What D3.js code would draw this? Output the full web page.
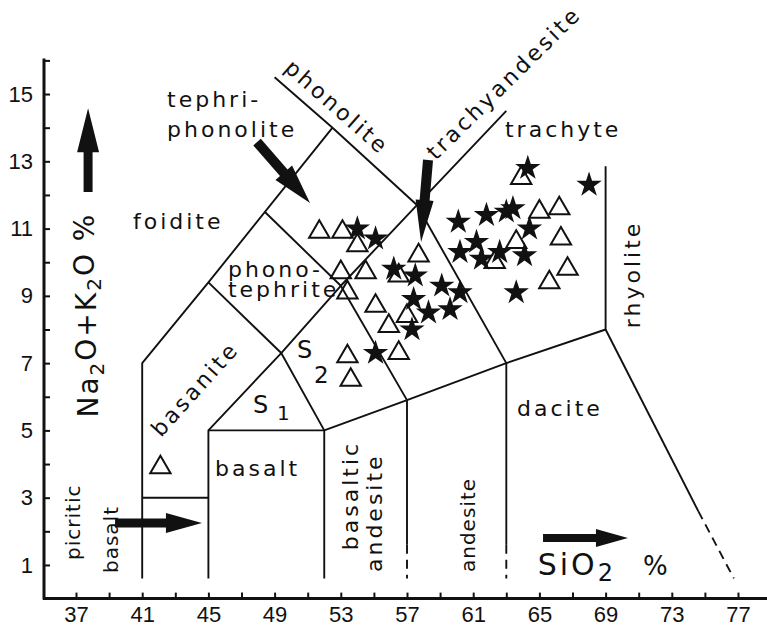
<!DOCTYPE html>
<html>
<head>
<meta charset="utf-8">
<script src="https://cdn.jsdelivr.net/npm/d3@7"></script>
<style>
	body { margin: 0; background: #fff; }
	svg { display: block; }
	.lbl { font-family: "DejaVu Sans", sans-serif; font-size: 22px; letter-spacing: 3px; fill: #111; }
	.tick text { font-family: "Liberation Sans", Arial, sans-serif; font-size: 22px; fill: #111; }
</style>
</head>
<body>
<div id="theChart"></div>
<script>
// axis ticks
const xTicks = d3.range(37, 78, 2)
const xTickLabels = [37, 41, 45, 49, 53, 57, 61, 65, 69, 73, 77]
const yTicks = d3.range(1, 17)
const yTickLabels = [1, 3, 5, 7, 9, 11, 13, 15]

// open triangles (SiO2 %, Na2O+K2O %)
const triSiO2 = [42.1, 51.7, 53.1, 54.0, 53.0, 54.5, 53.4, 55.1, 55.9, 53.4, 53.6, 56.5, 57.7, 57.0, 56.5, 63.9, 65.0, 66.2, 66.3, 66.7, 65.6, 62.3, 63.6]
const triAlk = [3.9, 10.9, 10.9, 10.5, 9.7, 9.7, 9.1, 8.7, 8.1, 7.2, 6.5, 7.3, 10.2, 8.4, 9.6, 12.5, 11.5, 11.6, 10.7, 9.8, 9.4, 10.0, 10.6]

// filled stars
const starSiO2 = [54.0, 55.1, 56.2, 57.5, 59.1, 57.4, 58.3, 60.2, 59.6, 57.3, 55.1, 60.1, 61.8, 63.0, 61.2, 60.2, 62.6, 63.6, 64.3, 68.0, 63.4, 64.4, 61.5, 64.1]
const starAlk = [11.0, 10.7, 9.8, 9.6, 9.3, 8.9, 8.5, 9.1, 8.6, 8.0, 7.3, 11.2, 11.4, 11.5, 10.6, 10.3, 10.3, 9.1, 12.8, 12.3, 11.6, 11.0, 10.1, 10.2]

// field boundaries (SiO2, alkali)
const fieldLines = [
	[[41, 0.6], [41, 7], [45, 9.4], [52.5, 14]],
	[[41, 3], [45, 3]],
	[[45, 0.6], [45, 5], [52, 5], [52, 0.6]],
	[[45, 5], [49.4, 7.3], [53, 9.3], [57.6, 11.7], [63, 14.5]],
	[[45, 9.4], [49.4, 7.3], [52, 5]],
	[[48.4, 11.5], [53, 9.3], [57, 5.9]],
	[[49, 15.5], [52.5, 14], [57.6, 11.7], [63, 7]],
	[[52, 5], [57, 5.9], [63, 7], [69, 8], [69, 12.85]],
	[[57, 5.9], [57, 1.6]],
	[[63, 7], [63, 1.6]],
	[[69, 8], [74.6, 2.6]],
]
const dashedLines = [
	[[57, 1.6], [57, 0.6]],
	[[63, 1.6], [63, 0.6]],
	[[74.6, 2.6], [76.75, 0.6]],
]

const labels = [
	{ t: "foidite", x: 40.44, y: 10.99 },
	{ t: "tephri-", x: 42.5, y: 14.62 },
	{ t: "phonolite", x: 42.5, y: 13.73 },
	{ t: "phono-", x: 46.18, y: 9.56 },
	{ t: "tephrite", x: 46.18, y: 8.97 },
	{ t: "basalt", x: 45.4, y: 3.64 },
	{ t: "trachyte", x: 62.92, y: 13.73 },
	{ t: "dacite", x: 63.65, y: 5.43 },
	{ t: "basanite", x: 44.19, y: 6.23, rot: -48, mid: true },
	{ t: "phonolite", x: 52.77, y: 14.61, rot: 41.4, mid: true },
	{ t: "trachyandesite", x: 62.86, y: 15.33, rot: -44.7, mid: true },
	{ t: "picritic", x: 37.24, y: 1.15, rot: -90, tight: true },
	{ t: "basalt", x: 39.54, y: 0.76, rot: -90, tight: true },
	{ t: "basaltic", x: 54.04, y: 1.44, rot: -90 },
	{ t: "andesite", x: 55.49, y: 0.79, rot: -90 },
	{ t: "andesite", x: 61.11, y: 0.79, rot: -90, tight: true },
	{ t: "rhyolite", x: 71.08, y: 8.04, rot: -90 },
]

// arrows: tail -> tip, in data units
const arrows = [
	{ from: [37.73, 12.09], to: [37.73, 14.58], w: 9, hl: 44, hw: 22 },
	{ from: [47.94, 13.57], to: [51.14, 11.76], w: 10, hl: 40, hw: 22 },
	{ from: [58.27, 13.04], to: [57.85, 10.6], w: 10, hl: 42, hw: 18 },
	{ from: [39.36, 2.25], to: [44.61, 2.25], w: 9, hl: 36, hw: 20 },
	{ from: [65.22, 1.8], to: [70.35, 1.8], w: 8, hl: 32, hw: 18 },
]

const w = 767
const h = 632

const x = d3.scaleLinear().domain([37, 77]).range([76, 738])
const y = d3.scaleLinear().domain([0, 16]).range([598.6, 60.4])

const svg = d3
	.select("#theChart")
	.append("svg")
	.attr("width", w)
	.attr("height", h)

const ink = "#111"
const line = d3.line().x(d => x(d[0])).y(d => y(d[1]))

// axes
const xAxis = d3
	.axisBottom(x)
	.tickValues(xTicks)
	.tickSizeInner(-6)
	.tickSizeOuter(0)
	.tickPadding(8)
	.tickFormat(d => (xTickLabels.includes(d) ? d : ""))

const yAxis = d3
	.axisLeft(y)
	.tickValues(yTicks)
	.tickSizeInner(-6)
	.tickSizeOuter(0)
	.tickPadding(11)
	.tickFormat(d => (yTickLabels.includes(d) ? d : ""))

const gx = svg.append("g").attr("transform", `translate(0,${y(0)})`).call(xAxis)
const gy = svg.append("g").attr("transform", "translate(44,0)").call(yAxis)
gx.select(".domain").remove()
gy.select(".domain").remove()
svg.selectAll(".tick line").attr("stroke", ink).attr("stroke-width", 2)

svg.append("line")
	.attr("x1", 43).attr("x2", w)
	.attr("y1", y(0)).attr("y2", y(0))
	.attr("stroke", ink).attr("stroke-width", 3)
svg.append("line")
	.attr("x1", 44).attr("x2", 44)
	.attr("y1", y(0) + 1).attr("y2", y(16) - 2)
	.attr("stroke", ink).attr("stroke-width", 3)

// field boundaries
svg.selectAll("path.field")
	.data(fieldLines)
	.enter()
	.append("path")
	.attr("class", "field")
	.attr("d", line)
	.attr("fill", "none")
	.attr("stroke", ink)
	.attr("stroke-width", 1.9)
	.attr("stroke-linejoin", "round")

svg.selectAll("path.dash")
	.data(dashedLines)
	.enter()
	.append("path")
	.attr("class", "dash")
	.attr("d", line)
	.attr("fill", "none")
	.attr("stroke", ink)
	.attr("stroke-width", 1.9)
	.attr("stroke-dasharray", "9,6")

// labels
svg.selectAll("text.lbl")
	.data(labels)
	.enter()
	.append("text")
	.attr("class", "lbl")
	.attr("transform", d => `translate(${x(d.x)},${y(d.y)}) rotate(${d.rot || 0})`)
	.attr("text-anchor", d => (d.mid ? "middle" : "start"))
	.attr("dominant-baseline", d => (d.mid ? "central" : "auto"))
	.style("font-size", d => (d.tight ? "20px" : null))
	.style("letter-spacing", d => (d.tight ? "1px" : null))
	.text(d => d.t)

// S1, S2
svg.append("text").attr("class", "lbl").attr("x", x(47.69)).attr("y", y(5.52)).style("font-size", "24px").text("S")
svg.append("text").attr("class", "lbl").attr("x", x(49.14)).attr("y", y(5.31)).style("font-size", "20px").text("1")
svg.append("text").attr("class", "lbl").attr("x", x(50.35)).attr("y", y(7.15)).style("font-size", "24px").text("S")
svg.append("text").attr("class", "lbl").attr("x", x(51.38)).attr("y", y(6.41)).style("font-size", "23px").text("2")

// axis titles
const yt = svg
	.append("text")
	.attr("class", "lbl")
	.attr("transform", `translate(${x(38.33)},${y(8.43)}) rotate(-90)`)
	.attr("text-anchor", "middle")
	.style("font-size", "28px")
	.style("letter-spacing", "2px")
yt.append("tspan").text("Na")
yt.append("tspan").attr("dy", "0.28em").style("font-size", "20px").text("2")
yt.append("tspan").attr("dy", "-0.28em").text("O+K")
yt.append("tspan").attr("dy", "0.28em").style("font-size", "20px").text("2")
yt.append("tspan").attr("dy", "-0.28em").text("O %")

const xt = svg
	.append("text")
	.attr("class", "lbl")
	.attr("x", x(64.9))
	.attr("y", y(0.7))
	.style("font-size", "30px")
	.style("letter-spacing", "3px")
xt.append("tspan").text("SiO")
xt.append("tspan").attr("dy", "0.25em").style("font-size", "24px").text("2")
svg.append("text").attr("class", "lbl").attr("x", x(71.26)).attr("y", y(0.7)).style("font-size", "26px").text("%")

// arrows
function arrowPoints(a) {
	const x0 = x(a.from[0]), y0 = y(a.from[1])
	const x1 = x(a.to[0]), y1 = y(a.to[1])
	const L = Math.hypot(x1 - x0, y1 - y0)
	const ux = (x1 - x0) / L, uy = (y1 - y0) / L
	const nx = -uy, ny = ux
	const bx = x1 - ux * a.hl, by = y1 - uy * a.hl
	const p = (px, py, s) => [px + nx * s, py + ny * s]
	return [
		p(x0, y0, a.w / 2), p(bx, by, a.w / 2), p(bx, by, a.hw / 2),
		[x1, y1],
		p(bx, by, -a.hw / 2), p(bx, by, -a.w / 2), p(x0, y0, -a.w / 2),
	]
}

svg.selectAll("polygon.arrow")
	.data(arrows)
	.enter()
	.append("polygon")
	.attr("class", "arrow")
	.attr("points", d => arrowPoints(d).map(p => p.join(",")).join(" "))
	.attr("fill", ink)

// points
const triData = triSiO2.map((s, i) => [s, triAlk[i]])
const starData = starSiO2.map((s, i) => [s, starAlk[i]])

svg.selectAll("path.tri")
	.data(triData)
	.enter()
	.append("path")
	.attr("class", "tri")
	.attr("d", d3.symbol(d3.symbolTriangle, 180))
	.attr("transform", d => `translate(${x(d[0])},${y(d[1])})`)
	.attr("fill", "none")
	.attr("stroke", ink)
	.attr("stroke-width", 2)

svg.selectAll("path.star")
	.data(starData)
	.enter()
	.append("path")
	.attr("class", "star")
	.attr("d", d3.symbol(d3.symbolStar, 200))
	.attr("transform", d => `translate(${x(d[0])},${y(d[1])})`)
	.attr("fill", ink)
</script>
</body>
</html>
